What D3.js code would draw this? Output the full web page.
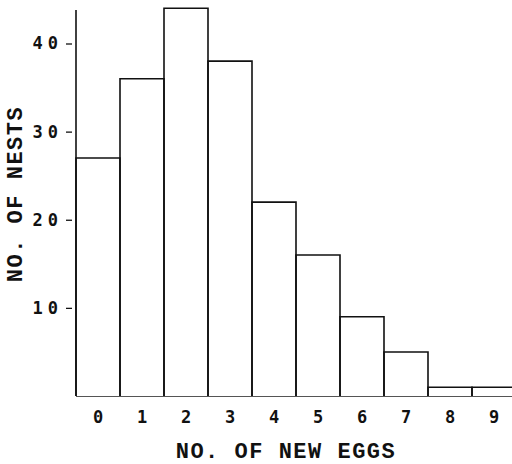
<!DOCTYPE html>
<html>
<head>
<meta charset="utf-8">
<script src="https://cdn.jsdelivr.net/npm/d3@7"></script>
<style>
  body { margin: 0; background: #fff; }
  svg { display: block; }
</style>
</head>
<body>
<div id="plotspace"></div>
<script>
// number of new eggs per nest (bins 0..9) and how many nests had that many
var eggs = [0, 1, 2, 3, 4, 5, 6, 7, 8, 9];
var nests = [27, 36, 44, 38, 22, 16, 9, 5, 1, 1];
var yticks = [10, 20, 30, 40];

var width = 512, height = 464;

var x = d3.scaleLinear().domain([0, 10]).range([76, 516]);
var y = d3.scaleLinear().domain([0, 40]).range([396, 43.5]);

var svg = d3.select("#plotspace").
    append("svg").
    attr("width", width).
    attr("height", height);

// baseline
svg.append("line").
    attr("x1", x(0)).attr("x2", width).
    attr("y1", y(0) + 0.5).attr("y2", y(0) + 0.5).
    attr("stroke", "#555").
    attr("stroke-width", 1.2);

// bars as outlines
svg.selectAll("path.bar").
    data(eggs).
    enter().
    append("path").
    attr("class", "bar").
    attr("d", function(d, i) {
        var p = d3.path();
        p.moveTo(x(d), y(0));
        p.lineTo(x(d), y(nests[i]));
        p.lineTo(x(d + 1), y(nests[i]));
        p.lineTo(x(d + 1), y(0));
        return p.toString();
    }).
    attr("fill", "none").
    attr("stroke", "#111").
    attr("stroke-width", 1.6);

// y axis line, runs above the tallest bar
svg.append("line").
    attr("x1", x(0)).attr("x2", x(0)).
    attr("y1", 10).attr("y2", y(0)).
    attr("stroke", "#111").
    attr("stroke-width", 1.6);

var yaxis = d3.axisLeft(y).tickValues(yticks).tickSize(6).tickPadding(3);
var gy = svg.append("g").
    attr("transform", "translate(72,0)").
    call(yaxis);
gy.select(".domain").remove();
gy.selectAll(".tick line").attr("stroke", "#111").attr("stroke-width", 1.3);
gy.selectAll(".tick text").
    attr("fill", "#111").
    style("font-family", "'DejaVu Sans Mono', monospace").
    style("font-weight", "bold").
    style("font-size", "17px").
    style("letter-spacing", "5px");

// category labels under the bars
svg.selectAll("text.xlab").
    data(eggs).
    enter().
    append("text").
    attr("class", "xlab").
    attr("x", function(d) { return x(d + 0.5); }).
    attr("y", 423).
    attr("text-anchor", "middle").
    attr("fill", "#111").
    style("font-family", "'DejaVu Sans Mono', monospace").
    style("font-weight", "bold").
    style("font-size", "17px").
    text(function(d) { return d; });

// axis titles
svg.append("text").
    attr("x", 286).
    attr("y", 458).
    attr("text-anchor", "middle").
    attr("fill", "#111").
    style("font-family", "'Liberation Mono', monospace").
    style("font-weight", "bold").
    style("font-size", "22px").
    style("letter-spacing", "1.5px").
    text("NO. OF NEW EGGS");

svg.append("text").
    attr("transform", "translate(22,194) rotate(-90)").
    attr("text-anchor", "middle").
    attr("fill", "#111").
    style("font-family", "'Liberation Mono', monospace").
    style("font-weight", "bold").
    style("font-size", "22px").
    style("letter-spacing", "1.5px").
    text("NO. OF NESTS");
</script>
</body>
</html>
